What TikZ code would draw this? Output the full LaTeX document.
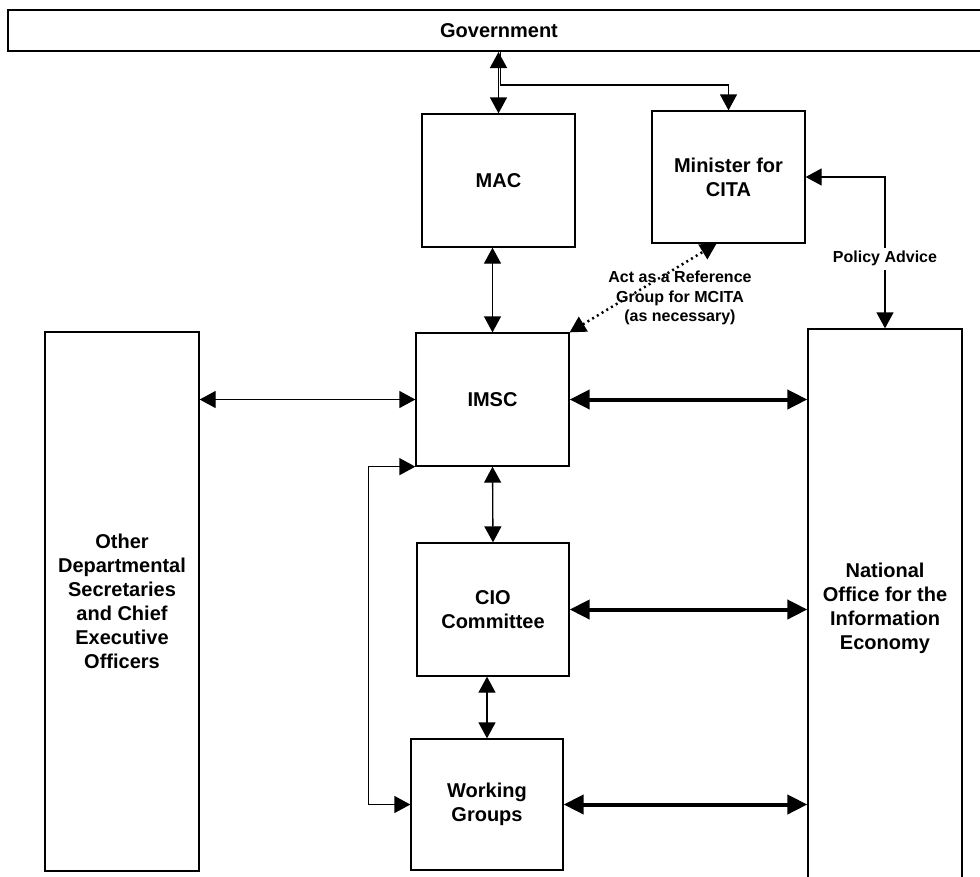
\documentclass[tikz,border=0pt]{standalone}
\usepackage{fontspec}
\setmainfont{Liberation Sans}
\usetikzlibrary{arrows.meta}

\begin{document}
\begin{tikzpicture}[x=1pt, y=-1pt,
    main/.style = {draw, line width=1.3pt, inner sep=0pt, align=center,
        minimum width=153pt, minimum height=133pt,
        font=\bfseries\fontsize{20}{24}\selectfont},
    note/.style = {font=\bfseries\fontsize{16}{19.5}\selectfont, align=center},
    arr/.style = {-{Triangle[length=16pt,width=17pt]}, line width=1.3pt},
    dbl/.style = {{Triangle[length=16pt,width=17pt]}-{Triangle[length=16pt,width=17pt]}, line width=1.3pt},
    heavy/.style = {{Triangle[length=20pt,width=19pt]}-{Triangle[length=20pt,width=19pt]}, line width=4pt}]
    \useasboundingbox (0,0) rectangle (980,876);
    \node[main, line width=2pt, minimum width=982pt, minimum height=41pt] (gov) at (499,30.5) {Government};
    \node[main] (mac) at (498.5,180.5) {MAC};
    \node[main, minimum height=132pt] (min) at (728.5,177) {Minister for\\CITA};
    \node[main] (imsc) at (492.5,399.5) {IMSC};
    \node[main, minimum width=152pt] (cio) at (493,609.5) {CIO\\Committee};
    \node[main, minimum width=152pt, minimum height=131pt] (wg) at (487,804.5) {Working\\Groups};
    \node[main, minimum width=154pt, minimum height=539pt] (other) at (122,601.5) {Other\\Departmental\\Secretaries\\and Chief\\Executive\\Officers};
    \node[main, minimum width=154pt, minimum height=558pt] (nat) at (885,608) {National\\Office for the\\Information\\Economy};
    \node[note] (ref) at (680,298) {Act as a Reference\\Group for MCITA\\(as necessary)};
    % links to the top
    \draw[dbl] (mac.north |- gov.south) -- (mac.north);
    \draw[arr] ([xshift=2pt]mac.north |- gov.south) -- ++(0,33) -| (min.north);
    \draw[dbl] (min.east) -| node[note, fill=white, pos=0.77] (pol) {Policy Advice} (nat.north);
    \draw[dbl, line width=2.5pt, dash pattern=on 2pt off 3.5pt] (imsc.north east) -- ([xshift=-12pt]min.south);
    \draw[dbl] (mac.south -| imsc.north) -- (imsc.north);
    % links across
    \draw[dbl] (other.east |- imsc.west) -- (imsc.west);
    \draw[heavy] (imsc.east) -- (imsc.east -| nat.west);
    \draw[heavy] (cio.east) -- (cio.east -| nat.west);
    \draw[heavy] (wg.east) -- (wg.east -| nat.west);
    % links down
    \draw[dbl] (imsc.south) -- (cio.north);
    \draw[dbl] (cio.south -| wg.north) -- (wg.north);
    \draw[dbl] (imsc.south west) -- ++(-47,0) |- (wg.west);
\end{tikzpicture}
\end{document}
